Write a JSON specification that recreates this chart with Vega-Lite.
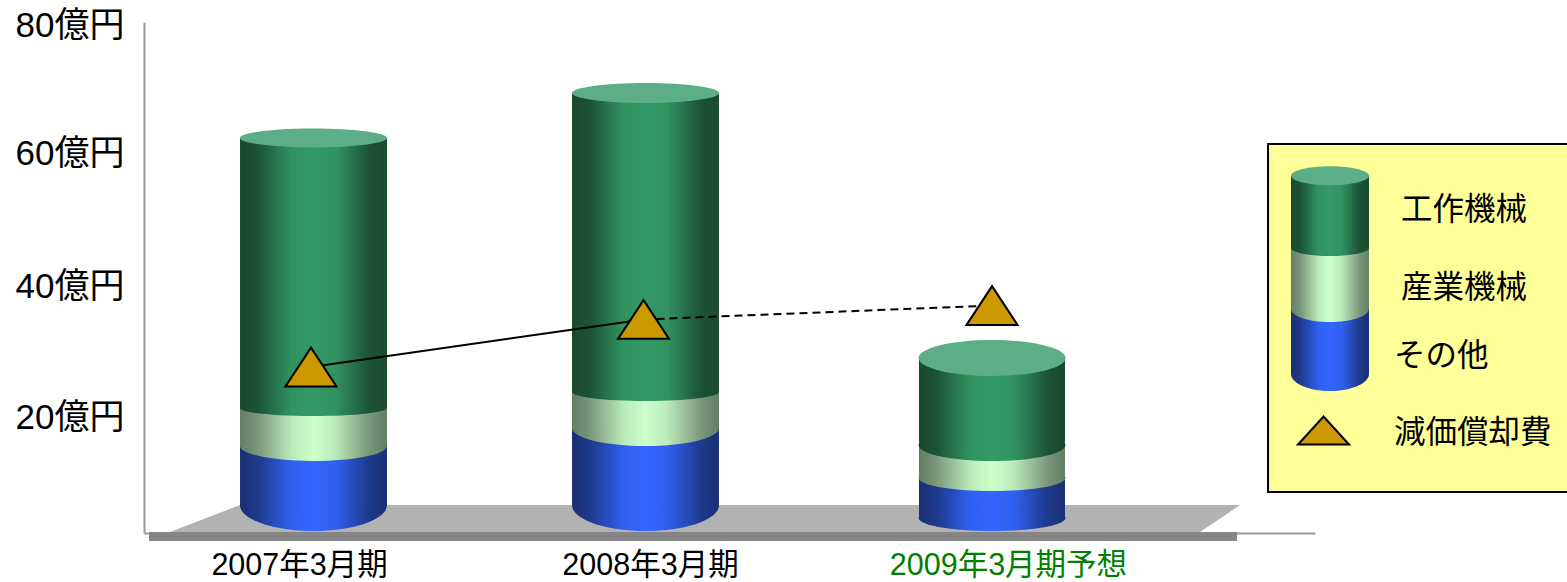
{"$schema":"https://vega.github.io/schema/vega-lite/v6.json","autosize":{"type":"none"},"padding":{"left":144,"top":22,"right":252,"bottom":49},"width":1171,"height":511,"background":"white","config":{"view":{"stroke":null},"font":"Liberation Sans, Noto Sans CJK JP, sans-serif","axis":{"grid":false,"ticks":false}},
"resolve":{"scale":{"shape":"independent"}},
"datasets":{
"floor":[{"y":6.71,"a":8.2,"b":93.6},{"y":2.59,"a":2.22,"b":90.18}],
"strip":[{"a":0.43,"b":93.34,"y":2.59,"y2":1.22}],
"box":[{"a":95.99,"b":122.2,"y":61.83,"y2":8.7}],
"segments":[
{"key":"2007-blue","series":"その他","period":"2007年3月期","center":14.47,"left":8.2,"right":20.75,"bottom":6.71,"top":15.72},
{"key":"2007-pale","series":"産業機械","period":"2007年3月期","center":14.47,"left":8.2,"right":20.75,"bottom":15.72,"top":21.52},
{"key":"2007-green","series":"工作機械","period":"2007年3月期","center":14.47,"left":8.2,"right":20.75,"bottom":21.52,"top":62.75},
{"key":"2008-blue","series":"その他","period":"2008年3月期","center":42.83,"left":36.55,"right":49.1,"bottom":6.71,"top":18.47},
{"key":"2008-pale","series":"産業機械","period":"2008年3月期","center":42.83,"left":36.55,"right":49.1,"bottom":18.47,"top":23.97},
{"key":"2008-green","series":"工作機械","period":"2008年3月期","center":42.83,"left":36.55,"right":49.1,"bottom":23.97,"top":69.62},
{"key":"2009-blue","series":"その他","period":"2009年3月期予想","center":72.42,"left":66.18,"right":78.65,"bottom":4.73,"top":10.84},
{"key":"2009-pale","series":"産業機械","period":"2009年3月期予想","center":72.42,"left":66.18,"right":78.65,"bottom":10.84,"top":15.88},
{"key":"2009-green","series":"工作機械","period":"2009年3月期予想","center":72.42,"left":66.18,"right":78.65,"bottom":15.88,"top":29.16},
{"key":"legend-blue","series":"その他","period":"legend","center":101.28,"left":97.95,"right":104.61,"bottom":26.71,"top":36.64},
{"key":"legend-pale","series":"産業機械","period":"legend","center":101.28,"left":97.95,"right":104.61,"bottom":36.64,"top":45.95},
{"key":"legend-green","series":"工作機械","period":"legend","center":101.28,"left":97.95,"right":104.61,"bottom":45.95,"top":56.94}],
"caps":[{"key":"2007-top","center":14.47,"top":62.75},{"key":"2008-top","center":42.83,"top":69.62},{"key":"2009-top","center":72.42,"top":29.16},{"key":"legend-top","center":101.28,"top":57.0}],
"dep":[{"segment":"actual","x":14.26,"y":27.78},{"segment":"actual","x":42.66,"y":35.04},{"segment":"forecast","x":42.66,"y":35.04},{"segment":"forecast","x":72.42,"y":37.17}],
"marks":[{"key":"tri","x":14.26,"y":27.78},{"key":"tri","x":42.66,"y":35.04},{"key":"tri","x":72.42,"y":37.17},{"key":"legend-tri","x":100.73,"y":18.09}],
"labels":[{"text":"工作機械","x":107.34,"y":51.6},{"text":"産業機械","x":107.34,"y":39.7},{"text":"その他","x":106.74,"y":29.3},{"text":"減価償却費","x":106.74,"y":17.56}]
},
"layer":[
{"data":{"name":"floor"},"mark":{"type":"area","orient":"horizontal","color":"#b2b2b2"},"encoding":{
"y":{"field":"y","type":"quantitative","scale":{"domain":[2.44,80.46],"nice":false,"zero":false},"title":null,"axis":{"values":[20,40,60,80],"labelExpr":"datum.value + '億円'","ticks":false,"grid":false,"domainColor":"#9a9a9a","domainWidth":2,"labelFontSize":35,"labelColor":"#000000","labelPadding":20,"labelFont":"Liberation Sans, Noto Sans CJK JP, sans-serif","labelBound":false,"labelFlush":false,"labelOverlap":false,"labelLimit":0,"labelOffset":{"condition":{"test":"datum.value === 60","value":-3},"value":0}}},
"x":{"field":"a","type":"quantitative","scale":{"domain":[0,100],"nice":false,"zero":false},"title":null,"axis":{"values":[13.24,43.21,73.78],"labelExpr":"datum.value < 20 ? '2007年3月期' : datum.value < 60 ? '2008年3月期' : '2009年3月期予想'","ticks":false,"grid":false,"domainColor":"#9a9a9a","domainWidth":2,"labelFontSize":30.5,"labelColor":{"condition":{"test":"datum.value > 60","value":"#008000"},"value":"#000000"},"labelPadding":17,"labelFont":"Liberation Sans, Noto Sans CJK JP, sans-serif","labelBound":false,"labelFlush":false,"labelOverlap":false,"labelLimit":0}},
"x2":{"field":"b"}}},
{"data":{"name":"strip"},"mark":{"type":"rect","color":"#858585"},"encoding":{"x":{"field":"a","type":"quantitative","scale":{"domain":[0,100],"nice":false,"zero":false},"title":null},"x2":{"field":"b"},"y":{"field":"y","type":"quantitative","scale":{"domain":[2.44,80.46],"nice":false,"zero":false},"title":null},"y2":{"field":"y2"}}},
{"data":{"name":"box"},"mark":{"type":"rect","fill":"#ffff99","stroke":"#000000","strokeWidth":2},"encoding":{"x":{"field":"a","type":"quantitative","scale":{"domain":[0,100],"nice":false,"zero":false},"title":null},"x2":{"field":"b"},"y":{"field":"y","type":"quantitative","scale":{"domain":[2.44,80.46],"nice":false,"zero":false},"title":null},"y2":{"field":"y2"}}},
{"data":{"name":"segments"},"transform":[{"filter":"datum.series === 'その他'"}],"mark":{"type":"rect","fill":{"gradient":"linear","x1":0,"y1":0,"x2":1,"y2":0,"stops":[{"offset":0,"color":"#1a2f73"},{"offset":0.12,"color":"#1d3a8c"},{"offset":0.35,"color":"#3060f0"},{"offset":0.5,"color":"#3366ff"},{"offset":0.65,"color":"#3060f0"},{"offset":0.88,"color":"#1d3a8c"},{"offset":1,"color":"#1a2f73"}]}},"encoding":{"x":{"field":"left","type":"quantitative","scale":{"domain":[0,100],"nice":false,"zero":false},"title":null},"x2":{"field":"right"},"y":{"field":"bottom","type":"quantitative","scale":{"domain":[2.44,80.46],"nice":false,"zero":false},"title":null},"y2":{"field":"top"}}},
{"data":{"name":"segments"},"transform":[{"filter":"datum.series === 'その他'"}],"mark":{"type":"point","filled":true,"opacity":1,"size":21609,"strokeWidth":0,"fill":{"gradient":"linear","x1":0,"y1":0,"x2":1,"y2":0,"stops":[{"offset":0,"color":"#1a2f73"},{"offset":0.12,"color":"#1d3a8c"},{"offset":0.35,"color":"#3060f0"},{"offset":0.5,"color":"#3366ff"},{"offset":0.65,"color":"#3060f0"},{"offset":0.88,"color":"#1d3a8c"},{"offset":1,"color":"#1a2f73"}]}},"encoding":{"x":{"field":"center","type":"quantitative","scale":{"domain":[0,100],"nice":false,"zero":false},"title":null},"y":{"field":"bottom","type":"quantitative","scale":{"domain":[2.44,80.46],"nice":false,"zero":false},"title":null},"shape":{"field":"key","type":"nominal","legend":null,"scale":{"domain":["2007-blue","2008-blue","2009-blue","legend-blue"],"range":["M-1,-0.01 L-1,0 C-1,0.1955 -0.5523,0.354 0,0.354 C0.5523,0.354 1,0.1955 1,0 L1,-0.01 Z","M-1,-0.01 L-1,0 C-1,0.1955 -0.5523,0.354 0,0.354 C0.5523,0.354 1,0.1955 1,0 L1,-0.01 Z","M-1,-0.01 L-1,0 C-1,0.0978 -0.5523,0.177 0,0.177 C0.5523,0.177 1,0.0978 1,0 L1,-0.01 Z","M-0.5306,-0.01 L-0.5306,0 C-0.5306,0.1276 -0.2931,0.231 0,0.231 C0.2931,0.231 0.5306,0.1276 0.5306,0 L0.5306,-0.01 Z"]}}}},
{"data":{"name":"segments"},"transform":[{"filter":"datum.series === '産業機械'"}],"mark":{"type":"rect","fill":{"gradient":"linear","x1":0,"y1":0,"x2":1,"y2":0,"stops":[{"offset":0,"color":"#637d63"},{"offset":0.12,"color":"#7a977a"},{"offset":0.35,"color":"#bbe9bb"},{"offset":0.5,"color":"#ccffcc"},{"offset":0.65,"color":"#bbe9bb"},{"offset":0.88,"color":"#7a977a"},{"offset":1,"color":"#637d63"}]}},"encoding":{"x":{"field":"left","type":"quantitative","scale":{"domain":[0,100],"nice":false,"zero":false},"title":null},"x2":{"field":"right"},"y":{"field":"bottom","type":"quantitative","scale":{"domain":[2.44,80.46],"nice":false,"zero":false},"title":null},"y2":{"field":"top"}}},
{"data":{"name":"segments"},"transform":[{"filter":"datum.series === '産業機械'"}],"mark":{"type":"point","filled":true,"opacity":1,"size":21609,"strokeWidth":0,"fill":{"gradient":"linear","x1":0,"y1":0,"x2":1,"y2":0,"stops":[{"offset":0,"color":"#637d63"},{"offset":0.12,"color":"#7a977a"},{"offset":0.35,"color":"#bbe9bb"},{"offset":0.5,"color":"#ccffcc"},{"offset":0.65,"color":"#bbe9bb"},{"offset":0.88,"color":"#7a977a"},{"offset":1,"color":"#637d63"}]}},"encoding":{"x":{"field":"center","type":"quantitative","scale":{"domain":[0,100],"nice":false,"zero":false},"title":null},"y":{"field":"bottom","type":"quantitative","scale":{"domain":[2.44,80.46],"nice":false,"zero":false},"title":null},"shape":{"field":"key","type":"nominal","legend":null,"scale":{"domain":["2007-pale","2008-pale","2009-pale","legend-pale"],"range":["M-1,-0.01 L-1,0 C-1,0.1127 -0.5523,0.204 0,0.204 C0.5523,0.204 1,0.1127 1,0 L1,-0.01 Z","M-1,-0.01 L-1,0 C-1,0.1353 -0.5523,0.245 0,0.245 C0.5523,0.245 1,0.1353 1,0 L1,-0.01 Z","M-1,-0.01 L-1,0 C-1,0.0978 -0.5523,0.177 0,0.177 C0.5523,0.177 1,0.0978 1,0 L1,-0.01 Z","M-0.5306,-0.01 L-0.5306,0 C-0.5306,0.0978 -0.2931,0.177 0,0.177 C0.2931,0.177 0.5306,0.0978 0.5306,0 L0.5306,-0.01 Z"]}}}},
{"data":{"name":"segments"},"transform":[{"filter":"datum.series === '工作機械'"}],"mark":{"type":"rect","fill":{"gradient":"linear","x1":0,"y1":0,"x2":1,"y2":0,"stops":[{"offset":0,"color":"#1a4a30"},{"offset":0.12,"color":"#1c5237"},{"offset":0.35,"color":"#31935f"},{"offset":0.5,"color":"#339966"},{"offset":0.65,"color":"#31935f"},{"offset":0.88,"color":"#1c5237"},{"offset":1,"color":"#1a4a30"}]}},"encoding":{"x":{"field":"left","type":"quantitative","scale":{"domain":[0,100],"nice":false,"zero":false},"title":null},"x2":{"field":"right"},"y":{"field":"bottom","type":"quantitative","scale":{"domain":[2.44,80.46],"nice":false,"zero":false},"title":null},"y2":{"field":"top"}}},
{"data":{"name":"segments"},"transform":[{"filter":"datum.series === '工作機械'"}],"mark":{"type":"point","filled":true,"opacity":1,"size":21609,"strokeWidth":0,"fill":{"gradient":"linear","x1":0,"y1":0,"x2":1,"y2":0,"stops":[{"offset":0,"color":"#1a4a30"},{"offset":0.12,"color":"#1c5237"},{"offset":0.35,"color":"#31935f"},{"offset":0.5,"color":"#339966"},{"offset":0.65,"color":"#31935f"},{"offset":0.88,"color":"#1c5237"},{"offset":1,"color":"#1a4a30"}]}},"encoding":{"x":{"field":"center","type":"quantitative","scale":{"domain":[0,100],"nice":false,"zero":false},"title":null},"y":{"field":"bottom","type":"quantitative","scale":{"domain":[2.44,80.46],"nice":false,"zero":false},"title":null},"shape":{"field":"key","type":"nominal","legend":null,"scale":{"domain":["2007-green","2008-green","2009-green","legend-green"],"range":["M-1,-0.01 L-1,0 C-1,0.0602 -0.5523,0.109 0,0.109 C0.5523,0.109 1,0.0602 1,0 L1,-0.01 Z","M-1,-0.01 L-1,0 C-1,0.0674 -0.5523,0.122 0,0.122 C0.5523,0.122 1,0.0674 1,0 L1,-0.01 Z","M-1,-0.01 L-1,0 C-1,0.1204 -0.5523,0.218 0,0.218 C0.5523,0.218 1,0.1204 1,0 L1,-0.01 Z","M-0.5306,-0.01 L-0.5306,0 C-0.5306,0.0602 -0.2931,0.109 0,0.109 C0.2931,0.109 0.5306,0.0602 0.5306,0 L0.5306,-0.01 Z"]}}}},
{"data":{"name":"caps"},"mark":{"type":"point","filled":true,"opacity":1,"size":21609,"strokeWidth":0,"fill":"#5cae86"},"encoding":{"x":{"field":"center","type":"quantitative","scale":{"domain":[0,100],"nice":false,"zero":false},"title":null},"y":{"field":"top","type":"quantitative","scale":{"domain":[2.44,80.46],"nice":false,"zero":false},"title":null},"shape":{"field":"key","type":"nominal","legend":null,"scale":{"domain":["2007-top","2008-top","2009-top","legend-top"],"range":["M-1,0 C-1,-0.0712 -0.5523,-0.129 0,-0.129 C0.5523,-0.129 1,-0.0712 1,0 C1,0.0712 0.5523,0.129 0,0.129 C-0.5523,0.129 -1,0.0712 -1,0 Z","M-1,0 C-1,-0.0751 -0.5523,-0.136 0,-0.136 C0.5523,-0.136 1,-0.0751 1,0 C1,0.0751 0.5523,0.136 0,0.136 C-0.5523,0.136 -1,0.0751 -1,0 Z","M-1,0 C-1,-0.1353 -0.5523,-0.245 0,-0.245 C0.5523,-0.245 1,-0.1353 1,0 C1,0.1353 0.5523,0.245 0,0.245 C-0.5523,0.245 -1,0.1353 -1,0 Z","M-0.5306,0 C-0.5306,-0.0712 -0.2931,-0.129 0,-0.129 C0.2931,-0.129 0.5306,-0.0712 0.5306,0 C0.5306,0.0712 0.2931,0.129 0,0.129 C-0.2931,0.129 -0.5306,0.0712 -0.5306,0 Z"]}}}},
{"data":{"name":"dep"},"transform":[{"filter":"datum.segment === 'actual'"}],"mark":{"type":"line","color":"#000000","strokeWidth":2},"encoding":{"x":{"field":"x","type":"quantitative","scale":{"domain":[0,100],"nice":false,"zero":false},"title":null},"y":{"field":"y","type":"quantitative","scale":{"domain":[2.44,80.46],"nice":false,"zero":false},"title":null}}},
{"data":{"name":"dep"},"transform":[{"filter":"datum.segment === 'forecast'"}],"mark":{"type":"line","color":"#000000","strokeWidth":2,"strokeDash":[8,5]},"encoding":{"x":{"field":"x","type":"quantitative","scale":{"domain":[0,100],"nice":false,"zero":false},"title":null},"y":{"field":"y","type":"quantitative","scale":{"domain":[2.44,80.46],"nice":false,"zero":false},"title":null}}},
{"data":{"name":"marks"},"mark":{"type":"point","filled":true,"opacity":1,"size":2601,"fill":"#cc9900","stroke":"#000000","strokeWidth":2,"strokeJoin":"miter"},"encoding":{"x":{"field":"x","type":"quantitative","scale":{"domain":[0,100],"nice":false,"zero":false},"title":null},"y":{"field":"y","type":"quantitative","scale":{"domain":[2.44,80.46],"nice":false,"zero":false},"title":null},"shape":{"field":"key","type":"nominal","legend":null,"scale":{"domain":["tri","legend-tri"],"range":["M-1,0.76 L0,-0.76 L1,0.76 Z","M-1,0.55 L0,-0.55 L1,0.55 Z"]}}}},
{"data":{"name":"labels"},"mark":{"type":"text","align":"left","baseline":"middle","fontSize":31.5,"color":"#000000","font":"Liberation Sans, Noto Sans CJK JP, sans-serif"},"encoding":{"x":{"field":"x","type":"quantitative","scale":{"domain":[0,100],"nice":false,"zero":false},"title":null},"y":{"field":"y","type":"quantitative","scale":{"domain":[2.44,80.46],"nice":false,"zero":false},"title":null},"text":{"field":"text"}}}
]}
